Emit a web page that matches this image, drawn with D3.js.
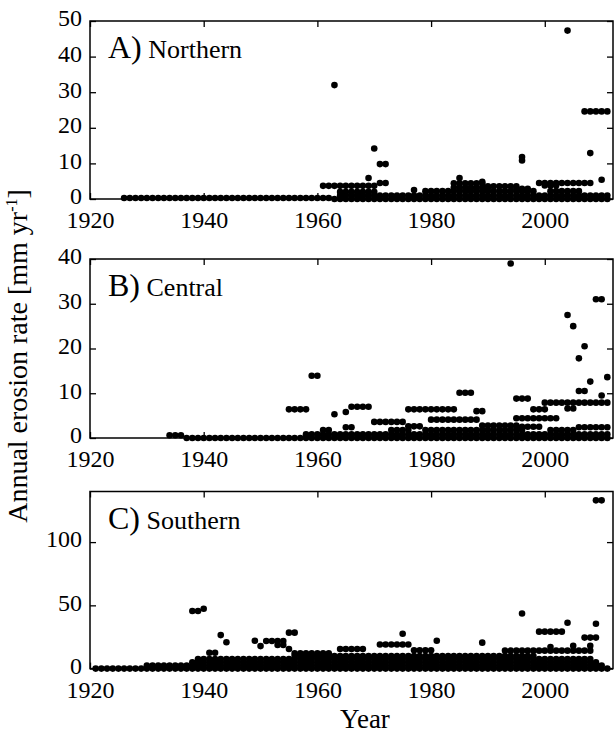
<!DOCTYPE html>
<html>
<head>
<meta charset="utf-8">
<script src="https://cdn.jsdelivr.net/npm/d3@7"></script>
<style>
  body { margin: 0; background: #fff; }
  svg text { font-family: "Liberation Serif", "Times New Roman", serif; fill: #000; }
</style>
</head>
<body>
<svg id="chart" width="614" height="736"></svg>
<script>
// runs: [firstYear, lastYear, rate] -> one dot per year at a constant rate
// dots: single [year, rate] points
const northernRuns = [
  [1926, 1962, 0.3], [1963, 2011, 0], [1964, 2011, 1.0], [1964, 1970, 2.0],
  [1961, 1970, 3.7], [1971, 1972, 4.5], [1971, 1972, 9.8], [1979, 1998, 2.2],
  [1984, 1989, 4.4], [1984, 1990, 3.2], [1990, 1995, 3.6], [1995, 1997, 2.9],
  [1999, 2008, 4.5], [2000, 2002, 3.8], [2001, 2006, 2.2], [2007, 2011, 24.6]
];
const northernDots = [
  [1963, 32], [1969, 5.9], [1970, 14.2], [1977, 2.5], [1985, 5.9], [1989, 4.8],
  [1996, 11.8], [1996, 10.8], [2004, 47.3], [2008, 12.9], [2010, 5.4]
];

const centralRuns = [
  [1934, 1936, 0.6], [1937, 2011, 0], [1958, 2011, 0.8], [1961, 1962, 1.8],
  [1955, 1958, 6.4], [1959, 1960, 13.9], [1965, 1966, 2.4], [1966, 1969, 7.0],
  [1970, 1975, 3.6], [1973, 1976, 1.8], [1976, 1984, 6.4], [1976, 1978, 2.6],
  [1980, 1988, 4.1], [1979, 1996, 1.8], [1985, 1987, 10.1], [1988, 1989, 6.0],
  [1989, 1995, 2.8], [1995, 1997, 8.8], [1995, 2002, 4.4], [1998, 2000, 6.4],
  [1995, 1999, 2.5], [2001, 2005, 1.8], [2000, 2011, 7.9], [2006, 2011, 2.4],
  [2009, 2010, 31], [2006, 2007, 10.5]
];
const centralDots = [
  [1963, 5.3], [1965, 5.8], [1994, 39], [2004, 27.5], [2005, 25], [2006, 17.8],
  [2007, 20.5], [2008, 12.6], [2011, 13.6], [2010, 9.5], [2004, 6.6], [2005, 6.6]
];

const southernRuns = [
  [1921, 2011, 0], [1930, 2010, 2.5], [1938, 2009, 5], [1939, 2008, 7.5],
  [1956, 1998, 10], [1956, 1962, 12], [1993, 2008, 14.2], [1941, 1942, 12.5],
  [1938, 1939, 45.5], [1951, 1954, 21.8], [1953, 1954, 18.7], [1955, 1956, 28.4],
  [1964, 1968, 15.5], [1971, 1976, 19], [1977, 1980, 14.5], [1999, 2003, 29.2],
  [2007, 2009, 24.5], [2009, 2010, 133]
];
const southernDots = [
  [1940, 47.3], [1943, 26.5], [1944, 20.8], [1949, 22], [1950, 17.8], [1955, 15.5],
  [1975, 27.5], [1981, 22], [1989, 20.5], [1996, 43.5], [2001, 17], [2004, 36.2],
  [2005, 18], [2008, 18], [2009, 35.5]
];

const yearTicks = [1920, 1940, 1960, 1980, 2000];
const northernTicks = [0, 10, 20, 30, 40, 50];
const centralTicks = [0, 10, 20, 30, 40];
const southernTicks = [0, 50, 100];

const serif = '"Liberation Serif", "Times New Roman", serif';
const svg = d3.select("#chart");
const x = d3.scaleLinear().domain([1920, 2012]).range([90, 613]);

const panels = [
  { letter: "A)", name: "Northern", runs: northernRuns, dots: northernDots, yMax: 50, ticks: northernTicks, top: 21, bottom: 199 },
  { letter: "B)", name: "Central", runs: centralRuns, dots: centralDots, yMax: 40, ticks: centralTicks, top: 259, bottom: 438 },
  { letter: "C)", name: "Southern", runs: southernRuns, dots: southernDots, yMax: 140, ticks: southernTicks, top: 491.5, bottom: 668.6 }
];

const expand = (runs, dots) => {
  const pts = [];
  runs.forEach(([a, b, v]) => d3.range(a, b + 1).forEach(yr => pts.push([yr, v])));
  return pts.concat(dots);
};

const styleAxis = (g, showText) => {
  g.attr("font-family", serif).attr("font-size", 24);
  g.select(".domain").remove();
  g.selectAll(".tick line").attr("stroke", "#000").attr("stroke-width", 1.3);
  g.selectAll(".tick text").style("font-family", serif).style("font-size", "24px");
  if (!showText) g.selectAll(".tick text").remove();
};

panels.forEach(p => {
  const y = d3.scaleLinear().domain([0, p.yMax]).range([p.bottom, p.top]);
  const g = svg.append("g");

  // dots
  g.selectAll("circle")
    .data(expand(p.runs, p.dots))
    .enter()
    .append("circle")
    .attr("cx", d => x(d[0]))
    .attr("cy", d => y(d[1]))
    .attr("r", 3.3)
    .attr("fill", "#000");

  // axes (ticks point inward on all four sides)
  g.append("g").attr("transform", `translate(0,${p.bottom})`)
    .call(d3.axisBottom(x).tickValues(yearTicks).tickFormat(d3.format("d")).tickSizeInner(-6).tickSizeOuter(0).tickPadding(12))
    .call(a => styleAxis(a, true));
  g.append("g").attr("transform", `translate(0,${p.top})`)
    .call(d3.axisTop(x).tickValues(yearTicks).tickSizeInner(-6).tickSizeOuter(0))
    .call(a => styleAxis(a, false));
  g.append("g").attr("transform", `translate(${x.range()[0]},0)`)
    .call(d3.axisLeft(y).tickValues(p.ticks).tickSizeInner(-6).tickSizeOuter(0).tickPadding(8))
    .call(a => styleAxis(a, true))
    .call(a => a.selectAll(".tick text").attr("dy", "0.2em"));
  g.append("g").attr("transform", `translate(${x.range()[1]},0)`)
    .call(d3.axisRight(y).tickValues(p.ticks).tickSizeInner(-6).tickSizeOuter(0))
    .call(a => styleAxis(a, false));

  // frame
  g.append("rect")
    .attr("x", x.range()[0]).attr("y", p.top)
    .attr("width", x.range()[1] - x.range()[0]).attr("height", p.bottom - p.top)
    .attr("fill", "none").attr("stroke", "#000").attr("stroke-width", 1.5);

  // panel label
  const lab = g.append("text").attr("x", 108).attr("y", p.top + 37).style("font-family", serif);
  lab.append("tspan").style("font-size", "32px").text(p.letter);
  lab.append("tspan").style("font-size", "26px").text(" " + p.name);
});

// axis titles
const yTitle = svg.append("text")
  .attr("transform", "translate(27,356) rotate(-90)")
  .attr("text-anchor", "middle")
  .style("font-family", serif)
  .style("font-size", "28px");
yTitle.append("tspan").text("Annual erosion rate [mm yr");
yTitle.append("tspan").attr("dy", -10).style("font-size", "16px").text("-1");
yTitle.append("tspan").attr("dy", 10).text("]");

svg.append("text")
  .attr("x", 365).attr("y", 728)
  .attr("text-anchor", "middle")
  .style("font-family", serif)
  .style("font-size", "27px")
  .text("Year");
</script>
</body>
</html>
